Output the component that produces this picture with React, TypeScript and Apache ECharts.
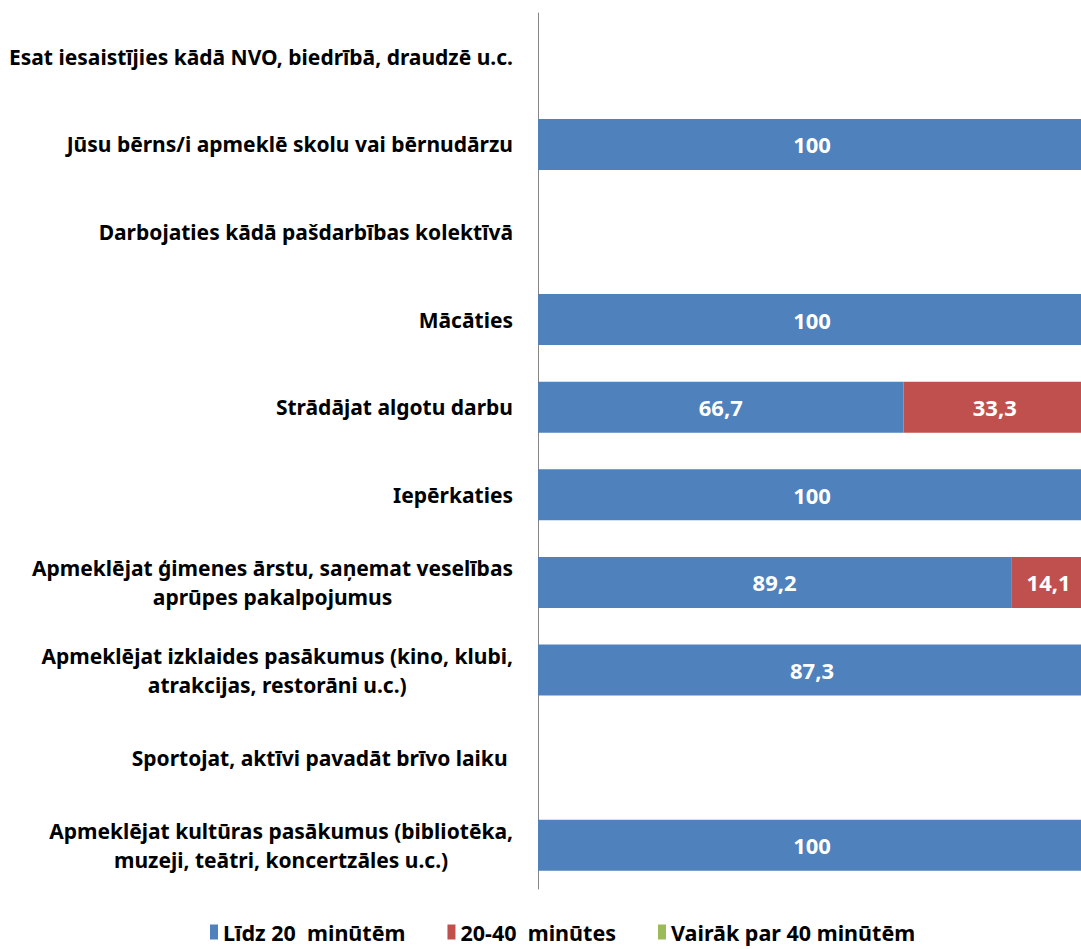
import React, { useEffect, useRef } from "react";
import * as echarts from "echarts";

const categories = [
  "Esat iesaistījies kādā NVO, biedrībā, draudzē u.c.",
  "Jūsu bērns/i apmeklē skolu vai bērnudārzu",
  "Darbojaties kādā pašdarbības kolektīvā",
  "Mācāties",
  "Strādājat algotu darbu",
  "Iepērkaties",
  "Apmeklējat ģimenes ārstu, saņemat veselības\naprūpes pakalpojumus",
  "Apmeklējat izklaides pasākumus (kino, klubi,\natrakcijas, restorāni u.c.)",
  "Sportojat, aktīvi pavadāt brīvo laiku ",
  "Apmeklējat kultūras pasākumus (bibliotēka,\nmuzeji, teātri, koncertzāles u.c.)",
];

const seriesNames = ["Līdz 20  minūtēm", "20-40  minūtes", "Vairāk par 40 minūtēm"];

const upTo20: (number | null)[] = [null, 100, null, 100, 66.7, 100, 89.2, 87.3, null, 100];
const from20to40: (number | null)[] = [null, null, null, null, 33.3, null, 14.1, null, null, null];
const over40: (number | null)[] = [null, null, null, null, null, null, null, null, null, null];

const colors = ["#4F81BD", "#C0504D", "#9BBB59"];

const FONT = "Noto Sans";

export default function App() {
  const ref = useRef<HTMLDivElement>(null);

  useEffect(() => {
    if (!ref.current) return;
    const chart = echarts.init(ref.current, undefined, { renderer: "svg" });
    const raw = [upTo20, from20to40, over40];
    const totals = categories.map((_, i) =>
      raw.reduce((s, arr) => s + (arr[i] ?? 0), 0)
    );
    const series = raw.map((arr, si) => ({
      name: seriesNames[si],
      type: "bar",
      stack: "total",
      barWidth: 51,
      itemStyle: { color: colors[si] },
      label: {
        show: true,
        position: "inside",
        color: "#ffffff",
        fontFamily: FONT,
        fontWeight: "bold",
        fontSize: 22,
        formatter: (p: any) => String(arr[p.dataIndex]).replace(".", ","),
      },
      data: arr.map((v, i) => (v == null ? null : (v / totals[i]) * 100)),
    }));

    chart.setOption({
      animation: false,
      grid: { left: 538, right: 14, top: 13, bottom: 60 },
      xAxis: {
        type: "value",
        min: 0,
        max: 100,
        show: false,
        splitLine: { show: false },
      },
      yAxis: {
        type: "category",
        inverse: true,
        data: categories,
        axisLine: { show: true, lineStyle: { color: "#868686", width: 1 } },
        axisTick: { show: false },
        axisLabel: {
          margin: 25,
          color: "#000",
          fontFamily: FONT,
          fontWeight: "bold",
          fontSize: 21,
          lineHeight: 29,
          formatter: (v: string) =>
            v
              .split("\n")
              .map((l) => `{c|${l}}`)
              .join("\n"),
          rich: {
            c: {
              align: "center",
              color: "#000",
              fontFamily: FONT,
              fontWeight: "bold",
              fontSize: 21,
              lineHeight: 29,
            },
          },
        },
      },
      legend: {
        bottom: 0,
        left: 205,
        itemWidth: 8,
        itemHeight: 15,
        itemGap: 42,
        icon: "rect",
        textStyle: {
          color: "#000",
          fontFamily: FONT,
          fontWeight: "bold",
          fontSize: 21.5,
          lineHeight: 24,
          padding: [0, 0, 0, 0],
        },
        data: seriesNames,
      },
      series,
    });
    return () => chart.dispose();
  }, []);

  return (
    <div
      style={{
        position: "fixed",
        left: 0,
        top: 0,
        width: 1081,
        height: 949,
        overflow: "hidden",
        background: "#fff",
      }}
    >
      <div ref={ref} style={{ width: 1100, height: 949 }} />
    </div>
  );
}
